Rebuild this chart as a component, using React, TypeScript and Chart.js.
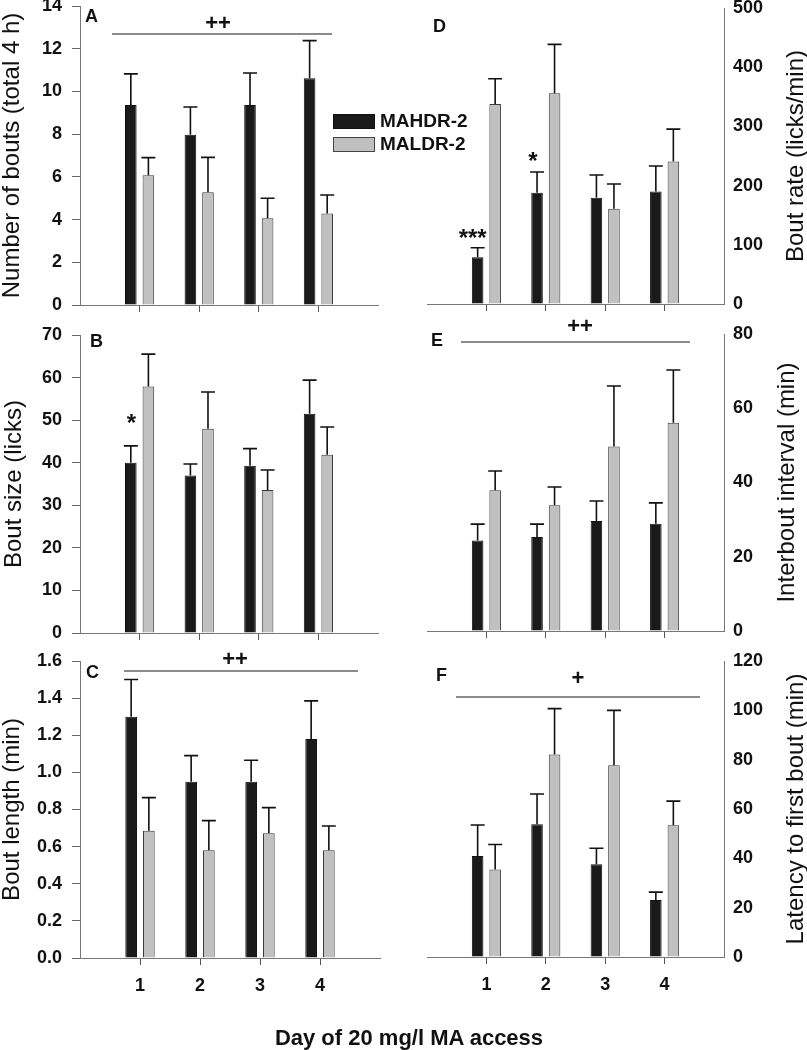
import React, { useEffect, useRef } from 'react';
import { Chart, registerables } from 'chart.js';

Chart.register(...registerables);

const FONT = '"Liberation Sans", Arial, Helvetica, sans-serif';
Chart.defaults.font.family = FONT;

// ---------------- data ----------------
const days = ['1', '2', '3', '4'];
const groupNames = ['MAHDR-2', 'MALDR-2'];
const xAxisTitle = 'Day of 20 mg/l MA access';

// A: number of bouts (total 4 h)
const boutsHdr = [9.36, 7.97, 9.36, 10.62];
const boutsHdrSem = [1.46, 1.3, 1.5, 1.76];
const boutsLdr = [6.08, 5.28, 4.06, 4.29];
const boutsLdrSem = [0.82, 1.63, 0.94, 0.86];

// B: bout size (licks)
const sizeHdr = [40.0, 37.0, 39.3, 51.5];
const sizeHdrSem = [3.95, 2.7, 4.0, 7.9];
const sizeLdr = [57.9, 48.0, 33.6, 41.9];
const sizeLdrSem = [7.6, 8.6, 4.7, 6.5];

// C: bout length (min)
const lengthHdr = [1.3, 0.95, 0.95, 1.18];
const lengthHdrSem = [0.2, 0.14, 0.115, 0.205];
const lengthLdr = [0.686, 0.581, 0.672, 0.581];
const lengthLdrSem = [0.178, 0.159, 0.138, 0.13];

// D: bout rate (licks/min)
const rateHdr = [79, 188, 179.5, 190];
const rateHdrSem = [16, 35, 38.5, 43];
const rateLdr = [338, 356, 161, 240.7];
const rateLdrSem = [42.5, 82.6, 41.8, 54.7];

// E: interbout interval (min)
const intervalHdr = [24.4, 25.3, 29.6, 28.9];
const intervalHdrSem = [4.4, 3.5, 5.4, 5.6];
const intervalLdr = [37.9, 33.9, 49.7, 56.1];
const intervalLdrSem = [5.2, 4.9, 16.3, 14.2];

// F: latency to first bout (min)
const latencyHdr = [40.9, 53.8, 37.6, 23.1];
const latencyHdrSem = [12.6, 12.3, 6.5, 3.2];
const latencyLdr = [35.5, 82.1, 77.7, 53.4];
const latencyLdrSem = [10.1, 18.6, 22.3, 9.8];

const HDR_COLOR = '#1a1a1a';
const LDR_COLOR = '#c0c0c0';

type Star = { ds: number; day: number; text: string; dx: number; dy: number };
type Sig = { text: string; tx: number; ty: number; x1: number; x2: number; ly: number };
type Panel = {
  key: string;
  letter: string;
  letterPos: [number, number];
  title: string;
  titleX: number;
  hdr: number[];
  hdrSem: number[];
  ldr: number[];
  ldrSem: number[];
  yMax: number;
  yStep: number;
  decimals: number;
  side: 'left' | 'right';
  box: { left: number; top: number; width: number; height: number };
  area: { left: number; top: number; right: number; bottom: number };
  showX: boolean;
  sig?: Sig;
  stars?: Star[];
  legend?: boolean;
};

const panels: Panel[] = [
  {
    key: 'A', letter: 'A', letterPos: [85, 17], title: 'Number of bouts (total 4 h)', titleX: 12,
    hdr: boutsHdr, hdrSem: boutsHdrSem, ldr: boutsLdr, ldrSem: boutsLdrSem,
    yMax: 14, yStep: 2, decimals: 0, side: 'left',
    box: { left: 0, top: 0, width: 500, height: 316 },
    area: { left: 80, top: 6, right: 378, bottom: 305 },
    showX: false,
    sig: { text: '++', tx: 218, ty: 24, x1: 112, x2: 332, ly: 34 },
    legend: true,
  },
  {
    key: 'B', letter: 'B', letterPos: [90, 26], title: 'Bout size (licks)', titleX: 14,
    hdr: sizeHdr, hdrSem: sizeHdrSem, ldr: sizeLdr, ldrSem: sizeLdrSem,
    yMax: 70, yStep: 10, decimals: 0, side: 'left',
    box: { left: 0, top: 316, width: 400, height: 332 },
    area: { left: 80, top: 19, right: 378, bottom: 317 },
    showX: false,
    stars: [{ ds: 0, day: 0, text: '*', dx: 0.5, dy: -29 }],
  },
  {
    key: 'C', letter: 'C', letterPos: [86, 25], title: 'Bout length (min)', titleX: 12,
    hdr: lengthHdr, hdrSem: lengthHdrSem, ldr: lengthLdr, ldrSem: lengthLdrSem,
    yMax: 1.6, yStep: 0.2, decimals: 1, side: 'left',
    box: { left: 0, top: 648, width: 400, height: 402 },
    area: { left: 80, top: 13, right: 380, bottom: 310 },
    showX: true,
    sig: { text: '++', tx: 235, ty: 12, x1: 124, x2: 358, ly: 23 },
  },
  {
    key: 'D', letter: 'D', letterPos: [33, 27], title: 'Bout rate (licks/min)', titleX: 396,
    hdr: rateHdr, hdrSem: rateHdrSem, ldr: rateLdr, ldrSem: rateLdrSem,
    yMax: 500, yStep: 100, decimals: 0, side: 'right',
    box: { left: 400, top: 0, width: 407, height: 316 },
    area: { left: 27, top: 8, right: 324, bottom: 304 },
    showX: false,
    stars: [
      { ds: 0, day: 0, text: '***', dx: -5, dy: -16 },
      { ds: 0, day: 1, text: '*', dx: -4, dy: -17 },
    ],
  },
  {
    key: 'E', letter: 'E', letterPos: [31, 25], title: 'Interbout interval (min)', titleX: 387,
    hdr: intervalHdr, hdrSem: intervalHdrSem, ldr: intervalLdr, ldrSem: intervalLdrSem,
    yMax: 80, yStep: 20, decimals: 0, side: 'right',
    box: { left: 400, top: 316, width: 407, height: 332 },
    area: { left: 27, top: 18, right: 324, bottom: 315 },
    showX: false,
    sig: { text: '++', tx: 180, ty: 11, x1: 61, x2: 290, ly: 26 },
  },
  {
    key: 'F', letter: 'F', letterPos: [36, 28], title: 'Latency to first bout (min)', titleX: 396,
    hdr: latencyHdr, hdrSem: latencyHdrSem, ldr: latencyLdr, ldrSem: latencyLdrSem,
    yMax: 120, yStep: 20, decimals: 0, side: 'right',
    box: { left: 400, top: 648, width: 407, height: 402 },
    area: { left: 27, top: 13, right: 324, bottom: 309 },
    showX: true,
    sig: { text: '+', tx: 178, ty: 31, x1: 56, x2: 300, ly: 49 },
  },
];

function makeChart(canvas: HTMLCanvasElement, p: Panel) {
  const labels = ['', ...days, ''];
  const padArr = (a: number[]) => [null, ...a, null];
  const a = p.area;
  const yWidth = p.side === 'left' ? a.left : p.box.width - a.right;
  const padding =
    p.side === 'left'
      ? { left: 0, right: p.box.width - a.right, top: a.top, bottom: 0 }
      : { left: a.left, right: 0, top: a.top, bottom: 0 };
  const xHeight = p.box.height - a.bottom;

  const annot = {
    id: 'annot' + p.key,
    afterDatasetsDraw(chart: any) {
      const ctx = chart.ctx;
      const y = chart.scales.y;
      ctx.save();
      ctx.strokeStyle = '#111';
      ctx.lineWidth = 1.6;
      chart.data.datasets.forEach((ds: any, di: number) => {
        const meta = chart.getDatasetMeta(di);
        meta.data.forEach((el: any, i: number) => {
          const v = ds.data[i];
          const e = ds.sem[i];
          if (v == null || e == null) return;
          const yb = y.getPixelForValue(v);
          const yt = y.getPixelForValue(v + e);
          ctx.beginPath();
          ctx.moveTo(el.x, yb);
          ctx.lineTo(el.x, yt);
          ctx.moveTo(el.x - 7, yt);
          ctx.lineTo(el.x + 7, yt);
          ctx.stroke();
        });
      });
      ctx.restore();
    },
    afterDraw(chart: any) {
      const ctx = chart.ctx;
      const ca = chart.chartArea;
      const y = chart.scales.y;
      ctx.save();
      ctx.fillStyle = '#111';
      // panel letter
      ctx.font = `bold 18px ${FONT}`;
      ctx.textAlign = 'left';
      ctx.textBaseline = 'middle';
      ctx.fillText(p.letter, p.letterPos[0], p.letterPos[1]);
      // significance line
      if (p.sig) {
        ctx.strokeStyle = '#666';
        ctx.lineWidth = 1.3;
        ctx.beginPath();
        ctx.moveTo(p.sig.x1, p.sig.ly);
        ctx.lineTo(p.sig.x2, p.sig.ly);
        ctx.stroke();
        ctx.font = `bold 22px ${FONT}`;
        ctx.textAlign = 'center';
        ctx.textBaseline = 'middle';
        ctx.fillText(p.sig.text, p.sig.tx, p.sig.ty);
      }
      // stars
      if (p.stars) {
        ctx.font = `bold 24px ${FONT}`;
        ctx.textAlign = 'center';
        ctx.textBaseline = 'alphabetic';
        p.stars.forEach((s) => {
          const ds: any = chart.data.datasets[s.ds];
          const el: any = chart.getDatasetMeta(s.ds).data[s.day + 1];
          const v = ds.data[s.day + 1] + ds.sem[s.day + 1];
          const yt = y.getPixelForValue(v);
          ctx.fillText(s.text, el.x + s.dx, yt + s.dy + 14);
        });
      }
      // y title (reads bottom to top on both sides)
      ctx.font = `24px ${FONT}`;
      ctx.textAlign = 'center';
      ctx.textBaseline = 'middle';
      ctx.translate(p.titleX, (ca.top + ca.bottom) / 2);
      ctx.rotate(-Math.PI / 2);
      ctx.fillText(p.title, 0, 0);
      ctx.setTransform(1, 0, 0, 1, 0, 0);
      // legend
      if (p.legend) {
        const boxes = [
          { y: 114, color: HDR_COLOR, border: '#111', text: groupNames[0], ty: 121.7 },
          { y: 137, color: LDR_COLOR, border: '#444', text: groupNames[1], ty: 145 },
        ];
        ctx.font = `bold 19px ${FONT}`;
        ctx.textAlign = 'left';
        ctx.textBaseline = 'middle';
        boxes.forEach((b) => {
          ctx.fillStyle = b.color;
          ctx.fillRect(333, b.y, 42, 15);
          ctx.strokeStyle = b.border;
          ctx.lineWidth = 1;
          ctx.strokeRect(333.5, b.y + 0.5, 41, 14);
          ctx.fillStyle = '#111';
          ctx.fillText(b.text, 380, b.ty);
        });
      }
      ctx.restore();
    },
  };

  return new Chart(canvas, {
    type: 'bar',
    data: {
      labels,
      datasets: [
        {
          label: groupNames[0],
          data: padArr(p.hdr),
          sem: padArr(p.hdrSem),
          backgroundColor: HDR_COLOR,
          borderColor: '#111',
          borderWidth: 1,
          categoryPercentage: 0.59,
          barPercentage: 0.66,
        } as any,
        {
          label: groupNames[1],
          data: padArr(p.ldr),
          sem: padArr(p.ldrSem),
          backgroundColor: LDR_COLOR,
          borderColor: '#3a3a3a',
          borderWidth: 1,
          categoryPercentage: 0.59,
          barPercentage: 0.66,
        } as any,
      ],
    },
    options: {
      animation: false,
      responsive: false,
      maintainAspectRatio: false,
      devicePixelRatio: 1,
      layout: { padding },
      plugins: { legend: { display: false }, tooltip: { enabled: false }, title: { display: false } },
      scales: {
        x: {
          type: 'category',
          offset: false,
          grid: {
            display: true,
            offset: false,
            drawOnChartArea: false,
            drawTicks: true,
            tickLength: 7,
            color: (c: any) => (c.index >= 1 && c.index <= 4 ? '#555' : 'rgba(0,0,0,0)'),
          },
          border: { display: true, color: '#777', width: 1 },
          ticks: {
            autoSkip: false,
            maxRotation: 0,
            minRotation: 0,
            padding: 10,
            color: '#111',
            font: { family: FONT, size: 18, weight: 'bold' },
            callback: (_v: any, i: number) => (p.showX && i >= 1 && i <= 4 ? labels[i] : ''),
          },
          afterFit: (s: any) => {
            s.height = xHeight;
            s.paddingLeft = 0;
            s.paddingRight = 0;
          },
        },
        y: {
          position: p.side,
          min: 0,
          max: p.yMax,
          grid: {
            display: true,
            drawOnChartArea: false,
            drawTicks: p.side === 'left',
            tickLength: 8,
            color: '#666',
          },
          border: { display: true, color: '#777', width: 1 },
          ticks: {
            stepSize: p.yStep,
            padding: p.side === 'left' ? 10 : 9,
            color: '#111',
            font: { family: FONT, size: 18, weight: 'bold' },
            callback: (v: any) => Number(v).toFixed(p.decimals),
          },
          afterFit: (s: any) => {
            s.width = yWidth;
            s.paddingTop = 0;
            s.paddingBottom = 0;
          },
        },
      },
    } as any,
    plugins: [annot],
  });
}

function PanelChart({ p }: { p: Panel }) {
  const ref = useRef<HTMLCanvasElement>(null);
  useEffect(() => {
    const c = makeChart(ref.current as HTMLCanvasElement, p);
    return () => c.destroy();
  }, [p]);
  return (
    <canvas
      ref={ref}
      width={p.box.width}
      height={p.box.height}
      style={{
        position: 'absolute',
        left: p.box.left,
        top: p.box.top,
        width: p.box.width,
        height: p.box.height,
      }}
    />
  );
}

export default function App() {
  return (
    <div
      style={{
        position: 'absolute',
        left: 0,
        top: 0,
        width: 807,
        height: 1050,
        background: '#fff',
        overflow: 'hidden',
      }}
    >
      {panels.map((p) => (
        <PanelChart key={p.key} p={p} />
      ))}
      <div
        style={{
          position: 'absolute',
          left: 0,
          width: 818,
          top: 1024,
          textAlign: 'center',
          font: `bold 22px ${FONT}`,
          lineHeight: '28px',
          color: '#111',
        }}
      >
        {xAxisTitle}
      </div>
    </div>
  );
}
